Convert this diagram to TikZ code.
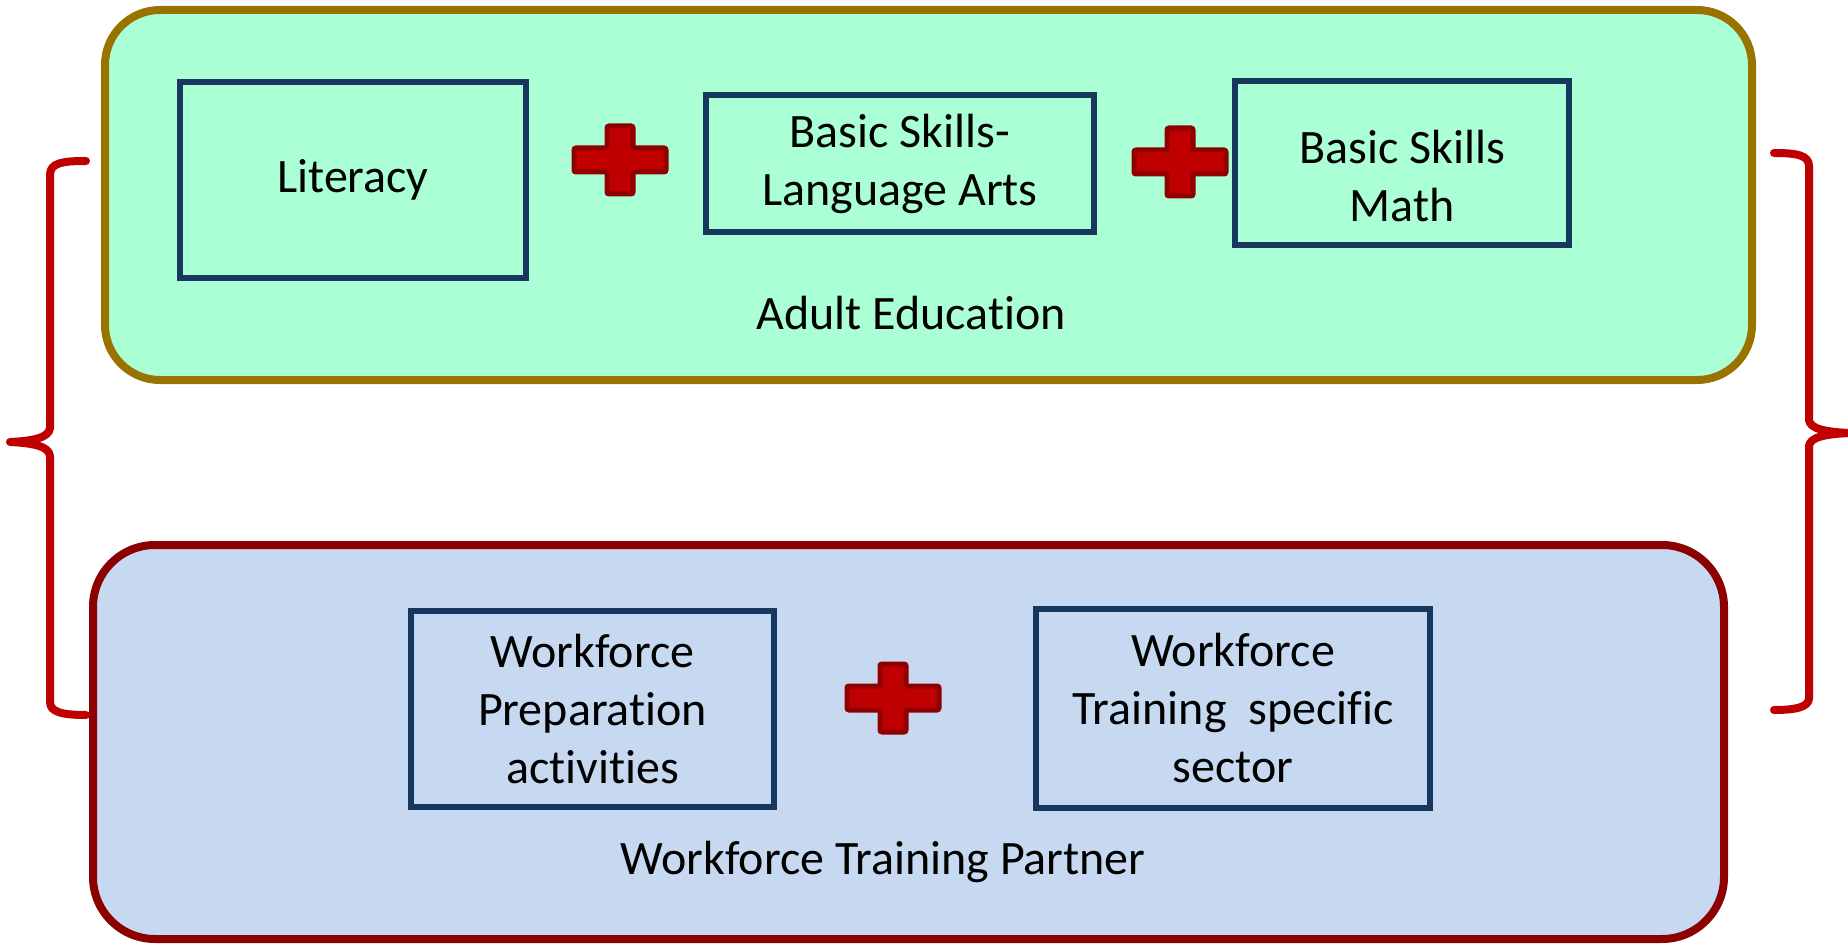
\documentclass[tikz,border=0pt]{standalone}
\usepackage{fontspec}
\setmainfont{Carlito}[Ligatures=NoCommon]
\definecolor{greenfill}{RGB}{170,255,213}
\definecolor{goldborder}{RGB}{153,115,0}
\definecolor{bluefill}{RGB}{198,217,241}
\definecolor{redborder}{RGB}{140,0,0}
\definecolor{navy}{RGB}{23,55,94}
\definecolor{plusred}{RGB}{192,0,0}
\definecolor{plusdark}{RGB}{145,0,0}
\definecolor{bracered}{RGB}{192,0,0}
\tikzset{
  txt/.style={font=\fontsize{48}{58}\selectfont, align=center, text=black},
  skillbox/.style={draw=navy, line width=6pt, fill=none, txt},
  outergreen/.style={draw=goldborder, fill=greenfill, line width=8pt, rounded corners=55pt},
  outerblue/.style={draw=redborder, fill=bluefill, line width=8pt, rounded corners=62pt},
  bracestyle/.style={draw=bracered, line width=8pt, line cap=round, line join=round},
  redplus/.pic={
    \draw[fill=plusred, draw=plusdark, line width=5pt, rounded corners=2pt]
      (-46,-12) -- (-13,-12) -- (-13,-34) -- (13,-34) -- (13,-12) -- (46,-12)
      -- (46,12) -- (13,12) -- (13,34) -- (-13,34) -- (-13,12) -- (-46,12) -- cycle;
  }
}
\begin{document}
\begin{tikzpicture}[x=1pt,y=-1pt]
\useasboundingbox (0,0) rectangle (1848,944);
\fill[white] (0,0) rectangle (1848,944);
% outer panels
\draw[outergreen] (105,10) rectangle (1752,380);
\draw[outerblue] (93,545) rectangle (1724,939);
% top boxes
\node[skillbox, minimum width=346pt, minimum height=196pt] (lit) at (353,180) {Literacy};
\node[skillbox, minimum width=388pt, minimum height=137pt] (bsla) at (900,163.5) {Basic Skills-\\Language Arts};
\node[skillbox, minimum width=334pt, minimum height=164pt] (math) at (1402,163) {};
\node[txt] (mathtxt) at (1402,176) {Basic Skills\\Math};
\node[txt] (adulted) at (911,313) {Adult Education};
% bottom boxes
\node[skillbox, minimum width=363pt, minimum height=196pt] (prep) at (592.5,709) {Workforce\\Preparation\\activities};
\node[skillbox, minimum width=394pt, minimum height=199pt] (train) at (1233,708) {Workforce\\Training\ \ specific\\sector};
\node[txt] (partner) at (883,862) {Workforce Training Partner};
% plus signs
\pic at (620,160) {redplus};
\pic at (1180,162) {redplus};
\pic at (893,698) {redplus};
% left brace
\draw[bracestyle] (86,161) .. controls (62,161) and (50,163) .. (50,175) -- (50,428)
  .. controls (49,438) and (32,441) .. (10,442)
  .. controls (32,443) and (49,446) .. (50,456) -- (50,702)
  .. controls (50,712) and (62,715) .. (86,715);
% right brace
\draw[bracestyle] (1774,153) .. controls (1796,153) and (1809,155) .. (1809,166) -- (1809,420)
  .. controls (1810,429) and (1826,432) .. (1850,433)
  .. controls (1826,434) and (1810,437) .. (1809,446) -- (1809,698)
  .. controls (1809,707) and (1796,710) .. (1774,710);
\end{tikzpicture}
\end{document}
